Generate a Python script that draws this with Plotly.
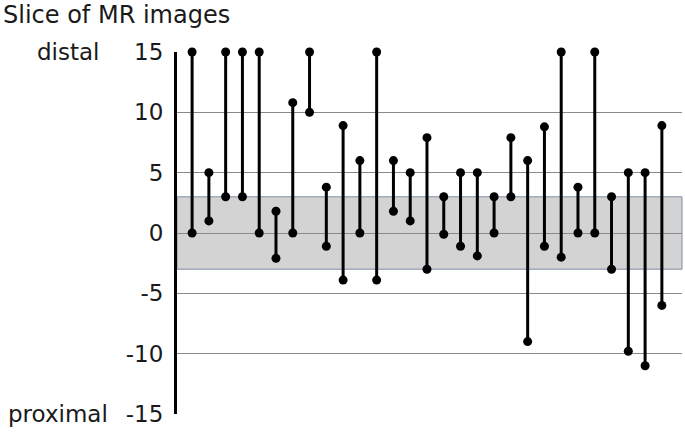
import plotly.graph_objects as go

# Data: each case's slice range (distal end / proximal end)
cases = list(range(1, 30))
top_vals = [15, 5, 15, 15, 15, 1.8, 10.8, 15, 3.8, 8.9, 6, 15, 6, 5, 7.9,
            3, 5, 5, 3, 7.9, 6, 8.8, 15, 3.8, 15, 3, 5, 5, 8.9]
bottom_vals = [0, 1, 3, 3, 0, -2.1, 0, 10, -1.1, -3.9, 0, -3.9, 1.8, 1, -3,
               -0.1, -1.1, -1.9, 0, 3, -9, -1.1, -2, 0, 0, -3, -9.8, -11, -6]
band_low, band_high = -3, 3
y_ticks = [-15, -10, -5, 0, 5, 10, 15]
y_tick_text = ["-15", "-10", "-5", "0", "5", "10", "15"]

xs, ys = [], []
for c, t, b in zip(cases, top_vals, bottom_vals):
    xs += [c, c, None]
    ys += [t, b, None]

fig = go.Figure()
fig.add_trace(go.Scatter(
    x=xs, y=ys, mode="lines+markers",
    line=dict(color="black", width=3),
    marker=dict(color="black", size=9),
    cliponaxis=False, showlegend=False, hoverinfo="skip"))

fig.add_shape(type="rect", xref="paper", yref="y", x0=0, x1=1,
              y0=band_low, y1=band_high, fillcolor="#d3d3d3",
              line=dict(color="#7d8fa6", width=1), layer="below")

font = "DejaVu Sans"
txt = "#1a1a1a"
L, R, T, B = 177, 3, 52, 22
pw, ph = 685 - L - R, 436 - T - B

fig.update_layout(
    width=685, height=436,
    margin=dict(l=L, r=R, t=T, b=B),
    plot_bgcolor="white", paper_bgcolor="white",
    font=dict(family=font, size=23, color=txt),
    xaxis=dict(range=[0.1, 30.2], visible=False, showgrid=False, zeroline=False),
    yaxis=dict(range=[-15, 15], tickvals=y_ticks, ticktext=y_tick_text,
               showgrid=True, gridcolor="#8a8a8a", gridwidth=1, zeroline=False,
               showline=True, linecolor="black", linewidth=3,
               ticks="", ticklabelstandoff=6,
               tickfont=dict(family=font, size=23, color=txt)),
    annotations=[
        dict(text="Slice of MR images", xref="paper", yref="paper",
             x=-(L - 1) / pw, y=1 + (T - 15) / ph, xanchor="left", yanchor="middle",
             showarrow=False, font=dict(family=font, size=24, color=txt)),
        dict(text="distal", xref="paper", yref="y", x=-(L - 101) / pw, y=15,
             xanchor="right", yanchor="middle", showarrow=False,
             font=dict(family=font, size=23, color=txt)),
        dict(text="proximal", xref="paper", yref="y", x=-(L - 110) / pw, y=-15,
             xanchor="right", yanchor="middle", showarrow=False,
             font=dict(family=font, size=23, color=txt)),
    ],
)

fig.write_html("out.html", config={"displayModeBar": False},
               post_script="document.body.style.margin='0';document.body.style.overflow='hidden';")
